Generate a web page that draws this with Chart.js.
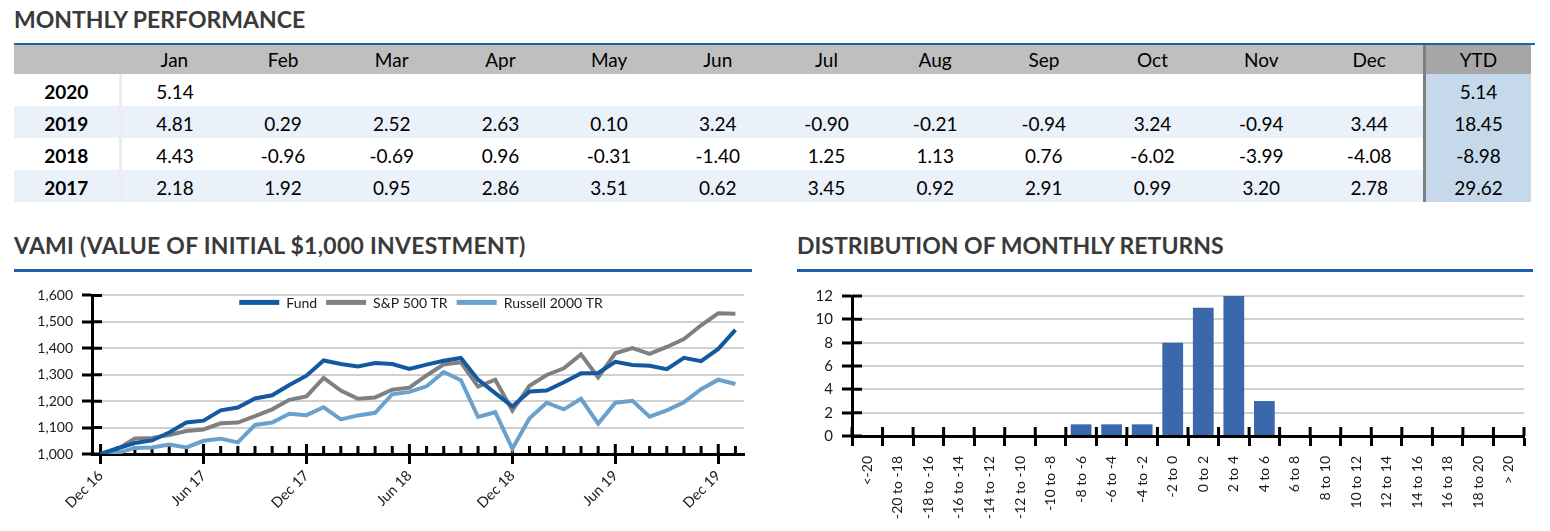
<!DOCTYPE html>
<html>
<head>
<meta charset="utf-8">
<script src="https://cdn.jsdelivr.net/npm/chart.js@4.4.1/dist/chart.umd.min.js"></script>
<style>
  body { margin: 0; width: 1550px; height: 531px; background: #fff; position: relative; overflow: hidden;
         font-family: Lato, "Noto Sans", sans-serif; color: #000; }
  .title { position: absolute; font-weight: bold; font-size: 23px; line-height: 23px; color: #3a3a3a; white-space: nowrap; }
  .rule { position: absolute; background: #1f5ea8; }
  #perf { position: absolute; left: 14px; top: 45px; width: 1517px; border-collapse: collapse; table-layout: fixed; font-size: 19px; }
  #perf th { background: #bfbfbf; font-weight: normal; height: 29px; padding: 0; text-align: center; }
  #perf td { height: 29px; padding: 3px 0 0 0; text-align: center; }
  #perf td.yr { font-weight: bold; border-right: 3px solid #ededed; }
  #perf tr.alt td { background: #eaf1f8; }
  #perf .ytd { border-left: 3px solid #7f7f7f; }
  #perf td.ytd { background: #c5d9eb !important; }
  #perf th.ytd { background: #a6a6a6; }
  canvas { position: absolute; }
</style>
</head>
<body>
<div class="title" style="left:14px; top:8px;">MONTHLY PERFORMANCE</div>
<div class="rule" style="left:14px; top:43px; width:1521px; height:2px;"></div>
<table id="perf">
  <colgroup>
    <col style="width:106px">
    <col span="12" style="width:108.7px">
    <col style="width:107px">
  </colgroup>
  <thead><tr id="perfHead"></tr></thead>
  <tbody id="perfBody"></tbody>
</table>

<div class="title" style="left:14px; top:234px; letter-spacing:0.25px;">VAMI (VALUE OF INITIAL $1,000 INVESTMENT)</div>
<div class="rule" style="left:14px; top:269px; width:738px; height:3px;"></div>
<div class="title" style="left:797px; top:234px;">DISTRIBUTION OF MONTHLY RETURNS</div>
<div class="rule" style="left:797px; top:269px; width:736px; height:3px;"></div>

<canvas id="vami" width="746" height="253" style="left:14px; top:278px;"></canvas>
<canvas id="dist" width="770" height="253" style="left:780px; top:278px;"></canvas>

<script>
// monthly performance table
const monthNames = ['Jan', 'Feb', 'Mar', 'Apr', 'May', 'Jun', 'Jul', 'Aug', 'Sep', 'Oct', 'Nov', 'Dec'];
const perfYears = ['2020', '2019', '2018', '2017'];
const perf2020 = [5.14];
const perf2019 = [4.81, 0.29, 2.52, 2.63, 0.10, 3.24, -0.90, -0.21, -0.94, 3.24, -0.94, 3.44];
const perf2018 = [4.43, -0.96, -0.69, 0.96, -0.31, -1.40, 1.25, 1.13, 0.76, -6.02, -3.99, -4.08];
const perf2017 = [2.18, 1.92, 0.95, 2.86, 3.51, 0.62, 3.45, 0.92, 2.91, 0.99, 3.20, 2.78];
const perfYtd = [5.14, 18.45, -8.98, 29.62];

// VAMI chart
const vamiLabels = ['Dec 16',
  'Jan 17', 'Feb 17', 'Mar 17', 'Apr 17', 'May 17', 'Jun 17', 'Jul 17', 'Aug 17', 'Sep 17', 'Oct 17', 'Nov 17', 'Dec 17',
  'Jan 18', 'Feb 18', 'Mar 18', 'Apr 18', 'May 18', 'Jun 18', 'Jul 18', 'Aug 18', 'Sep 18', 'Oct 18', 'Nov 18', 'Dec 18',
  'Jan 19', 'Feb 19', 'Mar 19', 'Apr 19', 'May 19', 'Jun 19', 'Jul 19', 'Aug 19', 'Sep 19', 'Oct 19', 'Nov 19', 'Dec 19',
  'Jan 20'];
const fund = [1000,
  1021.8, 1041.4, 1051.3, 1081.4, 1119.3, 1126.3, 1165.2, 1175.9, 1210.1, 1222.1, 1261.2, 1296.3,
  1353.7, 1340.7, 1331.5, 1344.3, 1340.1, 1321.4, 1337.9, 1353.0, 1363.3, 1281.2, 1230.1, 1180.0,
  1236.8, 1240.4, 1271.6, 1305.1, 1306.4, 1348.7, 1336.6, 1333.8, 1321.2, 1364.0, 1351.2, 1397.7,
  1469.5];
const sp500 = [1000,
  1019, 1059, 1061, 1072, 1087, 1093, 1116, 1119, 1143, 1169, 1205, 1218,
  1288, 1240, 1209, 1214, 1243, 1251, 1297, 1339, 1347, 1255, 1281, 1165,
  1258, 1299, 1324, 1377, 1290, 1381, 1401, 1379, 1405, 1435, 1487, 1532,
  1531];
const russell = [1000,
  1004, 1023, 1025, 1036, 1025, 1050, 1058, 1044, 1110, 1119, 1152, 1147,
  1177, 1131, 1146, 1156, 1226, 1235, 1256, 1310, 1279, 1140, 1158, 1020,
  1135, 1194, 1169, 1209, 1115, 1194, 1201, 1141, 1165, 1196, 1245, 1281,
  1265];
const vamiTicks = [1000, 1100, 1200, 1300, 1400, 1500, 1600];

// distribution chart
const bins = ['<-20', '-20 to -18', '-18 to -16', '-16 to -14', '-14 to -12', '-12 to -10', '-10 to -8',
  '-8 to -6', '-6 to -4', '-4 to -2', '-2 to 0', '0 to 2', '2 to 4', '4 to 6', '6 to 8', '8 to 10',
  '10 to 12', '12 to 14', '14 to 16', '16 to 18', '18 to 20', '> 20'];
const binCounts = [0, 0, 0, 0, 0, 0, 0, 1, 1, 1, 8, 11, 12, 3, 0, 0, 0, 0, 0, 0, 0, 0];

// build table
const head = document.getElementById('perfHead');
head.innerHTML = '<th></th>' + monthNames.map(m => '<th>' + m + '</th>').join('') + '<th class="ytd">YTD</th>';
const rows = [perf2020, perf2019, perf2018, perf2017];
const body = document.getElementById('perfBody');
rows.forEach((vals, r) => {
  let cells = '<td class="yr">' + perfYears[r] + '</td>';
  for (let i = 0; i < 12; i++) {
    cells += '<td>' + (vals[i] !== undefined ? vals[i].toFixed(2) : '') + '</td>';
  }
  cells += '<td class="ytd">' + perfYtd[r].toFixed(2) + '</td>';
  body.innerHTML += '<tr class="' + (r % 2 ? 'alt' : '') + '">' + cells + '</tr>';
});

const FONT = 'Lato, "Noto Sans", sans-serif';

// black tick marks on the inner side of both axes
const innerTicks = {
  id: 'innerTicks',
  beforeDatasetsDraw(chart, args, opts) {
    const { ctx, chartArea } = chart;
    const xs = chart.scales.x, ys = chart.scales.y;
    ctx.save();
    ctx.strokeStyle = '#000';
    ctx.lineWidth = 3;
    ctx.beginPath();
    ys.ticks.forEach((t, i) => {
      const py = ys.getPixelForTick(i);
      ctx.moveTo(chartArea.left, py);
      ctx.lineTo(chartArea.left + 10, py);
    });
    const n = xs.ticks.length;
    if (opts.between) {
      const half = (xs.getPixelForValue(1) - xs.getPixelForValue(0)) / 2;
      for (let i = 0; i <= n; i++) {
        const px = i < n ? xs.getPixelForValue(i) - half : xs.getPixelForValue(n - 1) + half;
        ctx.moveTo(px, chartArea.bottom);
        ctx.lineTo(px, chartArea.bottom - 9);
      }
    } else {
      for (let i = 0; i < n; i++) {
        const px = xs.getPixelForTick(i);
        ctx.moveTo(px, chartArea.bottom);
        ctx.lineTo(px, chartArea.bottom - (i % opts.every === 0 ? 10 : 8));
      }
    }
    ctx.stroke();
    ctx.restore();
  }
};

// one-row legend laid over the top of the plot area
const rowLegend = {
  id: 'rowLegend',
  afterDatasetsDraw(chart, args, opts) {
    const { ctx, chartArea } = chart;
    ctx.save();
    ctx.font = '14px ' + FONT;
    ctx.textBaseline = 'middle';
    const items = chart.data.datasets.map(d => ({
      text: d.label, color: d.borderColor, w: opts.box + opts.gap + ctx.measureText(d.label).width
    }));
    const total = items.reduce((s, it) => s + it.w, 0) + opts.spacing * (items.length - 1);
    let x = (chartArea.left + chartArea.right) / 2 - total / 2 + opts.shift;
    const y = chartArea.top + opts.dy;
    items.forEach(it => {
      ctx.fillStyle = it.color;
      ctx.fillRect(x, y - 2.5, opts.box, 5);
      ctx.fillStyle = '#1a1a1a';
      ctx.fillText(it.text, x + opts.box + opts.gap, y + 1);
      x += it.w + opts.spacing;
    });
    ctx.restore();
  }
};

new Chart(document.getElementById('vami'), {
  type: 'line',
  data: {
    labels: vamiLabels,
    datasets: [
      { label: 'Fund', data: fund, borderColor: '#13599f', backgroundColor: '#13599f' },
      { label: 'S&P 500 TR', data: sp500, borderColor: '#808080', backgroundColor: '#808080' },
      { label: 'Russell 2000 TR', data: russell, borderColor: '#6aa0cc', backgroundColor: '#6aa0cc' }
    ]
  },
  options: {
    responsive: false,
    animation: false,
    layout: { padding: { top: 16, right: 16, left: 0, bottom: 0 } },
    elements: { line: { borderWidth: 4, tension: 0 }, point: { radius: 0 } },
    plugins: {
      innerTicks: { every: 6 },
      rowLegend: { box: 40, gap: 7, spacing: 9, shift: 3, dy: 7 },
      tooltip: { enabled: false },
      legend: { display: false }
    },
    scales: {
      x: {
        offset: true,
        grid: {
          drawOnChartArea: false, tickLength: 10, tickWidth: 3,
          tickColor: c => (c.index % 6 === 0 ? '#000' : 'rgba(0,0,0,0)')
        },
        border: { color: '#000', width: 3 },
        ticks: {
          autoSkip: false, maxRotation: 45, minRotation: 45, padding: 3, color: '#1a1a1a',
          font: { family: FONT, size: 14.5 },
          callback: (v, i) => (i % 6 === 0 ? vamiLabels[i] : '')
        },
        afterFit: s => { s.height = 77; }
      },
      y: {
        min: vamiTicks[0], max: vamiTicks[vamiTicks.length - 1],
        afterBuildTicks: s => { s.ticks = vamiTicks.map(v => ({ value: v })); },
        grid: { color: '#d0d0d0', lineWidth: 2, tickColor: '#000', tickWidth: 3, tickLength: 10 },
        border: { color: '#000', width: 3 },
        ticks: { padding: 9, color: '#1a1a1a', font: { family: FONT, size: 14 }, callback: v => v.toLocaleString('en-US') },
        afterFit: s => { s.width = 78; }
      }
    }
  },
  plugins: [innerTicks, rowLegend]
});

new Chart(document.getElementById('dist'), {
  type: 'bar',
  data: {
    labels: bins,
    datasets: [{ label: 'Months', data: binCounts, backgroundColor: '#3b68ab', barPercentage: 0.68, categoryPercentage: 1 }]
  },
  options: {
    responsive: false,
    animation: false,
    layout: { padding: { top: 15, right: 26, left: 0, bottom: 0 } },
    plugins: { innerTicks: { between: true }, legend: { display: false }, tooltip: { enabled: false } },
    scales: {
      x: {
        grid: { drawOnChartArea: false, tickLength: 10, tickWidth: 3, tickColor: '#000' },
        border: { color: '#000', width: 3 },
        ticks: { autoSkip: false, maxRotation: 90, minRotation: 90, padding: 10, color: '#1a1a1a',
                 font: { family: FONT, size: 14 } },
        afterFit: s => { s.height = 95; }
      },
      y: {
        min: 0, max: 12,
        ticks: { stepSize: 2, padding: 9, color: '#1a1a1a', font: { family: FONT, size: 15 } },
        grid: { color: '#d0d0d0', lineWidth: 2, tickColor: '#000', tickWidth: 3, tickLength: 10 },
        border: { color: '#000', width: 3 },
        afterFit: s => { s.width = 72; }
      }
    }
  },
  plugins: [innerTicks]
});
</script>
</body>
</html>
